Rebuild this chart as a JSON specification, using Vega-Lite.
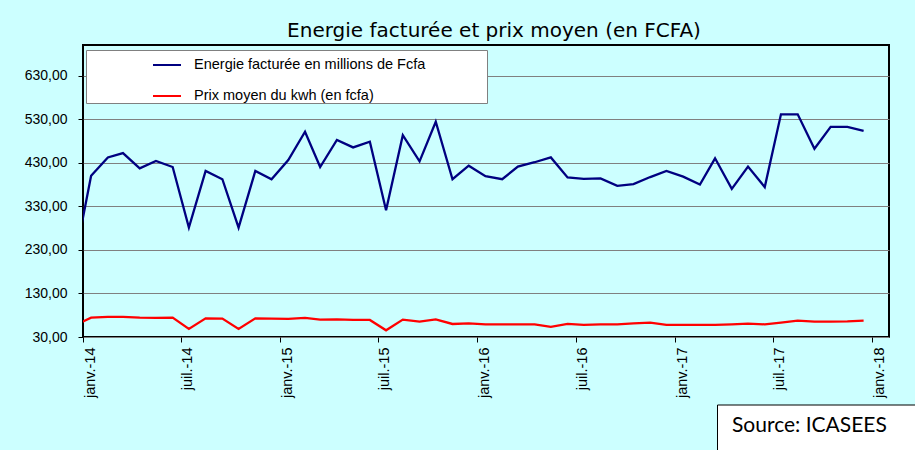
{
  "$schema": "https://vega.github.io/schema/vega-lite/v6.json",
  "width": 806,
  "height": 292,
  "autosize": {"type": "none"},
  "padding": {"left": 83, "top": 45, "right": 26, "bottom": 113},
  "background": "#CCFFFF",
  "title": {
    "text": "Energie facturée et prix moyen (en FCFA)",
    "font": "DejaVu Sans",
    "fontSize": 20,
    "fontWeight": "normal",
    "color": "black",
    "anchor": "middle",
    "baseline": "bottom",
    "offset": 2,
    "dx": 8,
    "dy": 18
  },
  "config": {
    "view": {"stroke": "black", "strokeWidth": 2, "fill": "white"},
    "axis": {"labelColor": "black", "tickColor": "black", "labelFont": "Liberation Sans"}
  },
  "layer": [
    {
      "data": {
        "values": [
          {"date": "2013-12-16", "energie": 202, "prix": 56.4},
          {"date": "2014-01-16", "energie": 400, "prix": 74.4},
          {"date": "2014-02-16", "energie": 442, "prix": 76},
          {"date": "2014-03-16", "energie": 452, "prix": 76},
          {"date": "2014-04-16", "energie": 417, "prix": 74.4},
          {"date": "2014-05-16", "energie": 434, "prix": 73.7},
          {"date": "2014-06-16", "energie": 420, "prix": 74.4},
          {"date": "2014-07-16", "energie": 281, "prix": 48.4},
          {"date": "2014-08-16", "energie": 411, "prix": 72.9},
          {"date": "2014-09-16", "energie": 392, "prix": 72.1},
          {"date": "2014-10-16", "energie": 281, "prix": 48.4},
          {"date": "2014-11-16", "energie": 411, "prix": 72.9},
          {"date": "2014-12-16", "energie": 392, "prix": 72.1},
          {"date": "2015-01-16", "energie": 436, "prix": 71.4},
          {"date": "2015-02-16", "energie": 501, "prix": 73.7},
          {"date": "2015-03-16", "energie": 420, "prix": 69.8},
          {"date": "2015-04-16", "energie": 482, "prix": 70.6},
          {"date": "2015-05-16", "energie": 465, "prix": 69.1},
          {"date": "2015-06-16", "energie": 478, "prix": 69.1},
          {"date": "2015-07-16", "energie": 321, "prix": 45.3},
          {"date": "2015-08-16", "energie": 493, "prix": 69.8},
          {"date": "2015-09-16", "energie": 433, "prix": 65.2},
          {"date": "2015-10-16", "energie": 524, "prix": 70.6},
          {"date": "2015-11-16", "energie": 392, "prix": 59.9},
          {"date": "2015-12-16", "energie": 423, "prix": 61.4},
          {"date": "2016-01-16", "energie": 399, "prix": 59.1},
          {"date": "2016-02-16", "energie": 392, "prix": 59.1},
          {"date": "2016-03-16", "energie": 421, "prix": 59.1},
          {"date": "2016-04-16", "energie": 431, "prix": 59.1},
          {"date": "2016-05-16", "energie": 442, "prix": 53.4},
          {"date": "2016-06-16", "energie": 396, "prix": 59.9},
          {"date": "2016-07-16", "energie": 393, "prix": 57.6},
          {"date": "2016-08-16", "energie": 394, "prix": 59.1},
          {"date": "2016-09-16", "energie": 377, "prix": 59.1},
          {"date": "2016-10-16", "energie": 381, "prix": 61.4},
          {"date": "2016-11-16", "energie": 397, "prix": 63},
          {"date": "2016-12-16", "energie": 411, "prix": 57.6},
          {"date": "2017-01-16", "energie": 398, "prix": 57.6},
          {"date": "2017-02-16", "energie": 380, "prix": 57.6},
          {"date": "2017-03-16", "energie": 440, "prix": 57.6},
          {"date": "2017-04-16", "energie": 370, "prix": 59.1},
          {"date": "2017-05-16", "energie": 421, "prix": 60.6},
          {"date": "2017-06-16", "energie": 374, "prix": 59.1},
          {"date": "2017-07-16", "energie": 541, "prix": 63},
          {"date": "2017-08-16", "energie": 541, "prix": 67.5},
          {"date": "2017-09-16", "energie": 462, "prix": 65.2},
          {"date": "2017-10-16", "energie": 512, "prix": 65.2},
          {"date": "2017-11-16", "energie": 512, "prix": 65.9},
          {"date": "2017-12-16", "energie": 503, "prix": 67.5}
        ]
      },
      "transform": [{"fold": ["energie", "prix"], "as": ["serie", "valeur"]}],
      "mark": {"type": "line", "strokeWidth": 2.3, "clip": true},
      "encoding": {
        "x": {
          "field": "date",
          "type": "temporal",
          "scale": {
            "type": "utc",
            "domain": [
              {"year": 2014, "month": 1, "date": 1, "utc": true},
              {"year": 2018, "month": 2, "date": 1, "utc": true}
            ]
          },
          "axis": {
            "title": null,
            "values": [
              {"year": 2014, "month": 1, "date": 1, "utc": true},
              {"year": 2014, "month": 7, "date": 1, "utc": true},
              {"year": 2015, "month": 1, "date": 1, "utc": true},
              {"year": 2015, "month": 7, "date": 1, "utc": true},
              {"year": 2016, "month": 1, "date": 1, "utc": true},
              {"year": 2016, "month": 7, "date": 1, "utc": true},
              {"year": 2017, "month": 1, "date": 1, "utc": true},
              {"year": 2017, "month": 7, "date": 1, "utc": true},
              {"year": 2018, "month": 1, "date": 1, "utc": true}
            ],
            "labelExpr": "(utcmonth(datum.value) == 0 ? 'janv.-' : 'juil.-') + utcFormat(datum.value, '%y')",
            "labelAngle": -90,
            "labelAlign": "right",
            "labelBaseline": "top",
            "labelFontSize": 14.5,
            "labelPadding": 5,
            "labelFlush": false,
            "labelOverlap": false,
            "tickSize": 5,
            "domain": false,
            "grid": false
          }
        },
        "y": {
          "field": "valeur",
          "type": "quantitative",
          "scale": {"domain": [30, 700], "nice": false, "zero": false},
          "axis": {
            "title": null,
            "values": [30, 130, 230, 330, 430, 530, 630],
            "labelExpr": "replace(format(datum.value, '.2f'), '.', ',')",
            "labelFontSize": 14,
            "labelPadding": 11,
            "tickSize": 5,
            "domain": false,
            "grid": true,
            "gridColor": "#808080",
            "gridWidth": 1
          }
        },
        "color": {
          "field": "serie",
          "type": "nominal",
          "scale": {"domain": ["energie", "prix"], "range": ["#000080", "#FF0000"]},
          "legend": {
            "title": "MMMMM",
            "titleOrient": "right",
            "titleOpacity": 0,
            "titleFontSize": 13.5,
            "titlePadding": 5,
            "orient": "none",
            "legendX": 3,
            "legendY": 5,
            "fillColor": "white",
            "strokeColor": "#808080",
            "padding": 0,
            "rowPadding": 9,
            "symbolType": "stroke",
            "symbolSize": 784,
            "symbolStrokeWidth": 2,
            "symbolOffset": 66,
            "labelOffset": 12,
            "labelFont": "Liberation Sans",
            "labelFontSize": 14.5,
            "labelColor": "black",
            "labelLimit": 600,
            "labelExpr": "datum.label == 'energie' ? 'Energie facturée en millions de Fcfa' : 'Prix moyen du kwh (en fcfa)'"
          }
        }
      }
    },
    {
      "data": {"values": [{"source": "Source: ICASEES"}]},
      "mark": {"type": "point", "opacity": 0},
      "encoding": {
        "shape": {
          "field": "source",
          "type": "nominal",
          "legend": {
            "title": null,
            "orient": "none",
            "legendX": 634,
            "legendY": 359.5,
            "fillColor": "white",
            "strokeColor": "black",
            "padding": 0,
            "symbolSize": 3721,
            "symbolOpacity": 0,
            "symbolStrokeWidth": 2,
            "symbolOffset": 160,
            "labelOffset": -208,
            "labelBaseline": "bottom",
            "labelFont": "Lato",
            "labelFontSize": 21,
            "labelColor": "black",
            "labelLimit": 600,
            "encode": {"legend": {"update": {"strokeWidth": {"value": 4}}}}
          }
        }
      }
    }
  ]
}
